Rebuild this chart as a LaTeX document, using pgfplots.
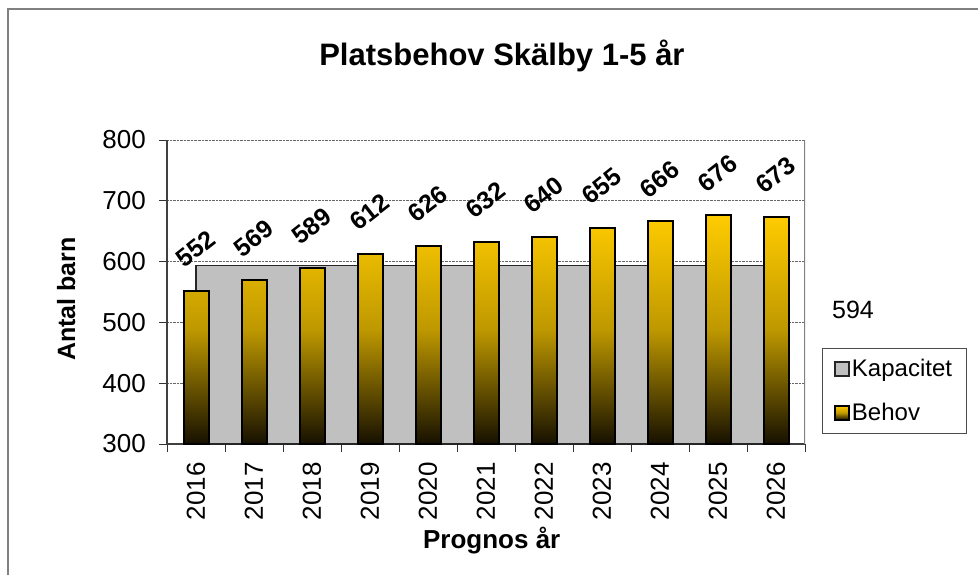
\documentclass[border=0pt]{standalone}
\usepackage{pgfplots}
\pgfplotsset{compat=1.18}
\usepackage{fontspec}
\setmainfont{Liberation Sans}
\definecolor{barTop}{HTML}{FFCC00}
\definecolor{barMid}{HTML}{BE9800}
\definecolor{barBot}{HTML}{161000}
\definecolor{kapFill}{HTML}{C0C0C0}
\definecolor{frameGray}{HTML}{808080}
\begin{document}
\begin{tikzpicture}
\useasboundingbox (0,0) rectangle (978bp,-575bp);
\draw[frameGray, line width=2bp] (8bp,-1000bp) -- (8bp,-9bp) -- (1000bp,-9bp);
\begin{axis}[
  at={(167bp,-444bp)}, anchor=south west,
  scale only axis, width=638bp, height=304bp,
  xmin=-0.5, xmax=10.5, ymin=300, ymax=800,
  ytick={300,400,...,800},
  xtick={-0.5,0.5,...,10.5},
  xticklabels={},
  extra x ticks={0,1,...,10},
  extra x tick labels={2016,2017,2018,2019,2020,2021,2022,2023,2024,2025,2026},
  extra x tick style={tick style={draw=none}, grid=none},
  axis x line*=bottom, axis y line*=left,
  xtick pos=bottom, ytick pos=left,
  tick align=outside,
  major tick length=8bp,
  tick style={black!80, line width=1bp},
  ymajorgrids,
  major grid style={densely dotted, black!60, line width=1bp},
  axis line style={black!75, line width=1.5bp, -},
  /pgf/number format/assume math mode=true,
  /pgf/number format/1000 sep={},
  yticklabel style={font=\fontsize{26bp}{26bp}\selectfont, anchor=east, inner sep=0pt, xshift=-13bp},
  xticklabel style={font=\fontsize{26bp}{26bp}\selectfont, yshift=-10bp, rotate=90, anchor=east, inner sep=0pt},
  ylabel={Antal barn},
  ylabel style={font=\bfseries\fontsize{25bp}{25bp}\selectfont, at={(axis description cs:-0.144,0.477)}, anchor=base, rotate=0},
  xlabel={Prognos år},
  xlabel style={font=\bfseries\fontsize{26bp}{26bp}\selectfont, at={(axis description cs:0.509,-0.345)}, anchor=base},
  title={Platsbehov Skälby 1-5 år},
  title style={font=\bfseries\fontsize{31bp}{31bp}\selectfont, at={(axis description cs:0.525,1.227)}, anchor=base},
  legend style={at={(axis description cs:1.0266,0.3158)}, anchor=north west,
    draw=black!70, line width=1bp, font=\fontsize{24bp}{24bp}\selectfont,
    inner xsep=12bp, inner ysep=9bp, row sep=21bp,
    nodes={inner sep=2bp},
    cells={anchor=west}},
  legend cell align=left,
]
\addplot[fill=kapFill, draw=black!85, line width=1.5bp,
  legend image code/.code={\draw[fill=kapFill, draw=black!85, line width=1.5bp] (0bp,-7bp) rectangle (14bp,7bp);}]
  coordinates {(0,300) (0,594) (10,594) (10,300)} -- cycle;
\addlegendentry{Kapacitet}
\addplot[ybar, bar width=25bp, draw=black, line width=2bp,
  top color=barTop, bottom color=barBot, middle color=barMid,
  nodes near coords,
  nodes near coords style={font=\bfseries\fontsize{25bp}{25bp}\selectfont, anchor=center, yshift=42bp, rotate=38, black},
  legend image code/.code={\draw[top color=barTop, bottom color=barBot, middle color=barMid, draw=black, line width=1.5bp] (0bp,-7bp) rectangle (14bp,7bp);}]
  coordinates {(0,552) (1,569) (2,589) (3,612) (4,626) (5,632) (6,640) (7,655) (8,666) (9,676) (10,673)};
\addlegendentry{Behov}
\draw[black!50, line width=1.5bp] (rel axis cs:1,0) -- (rel axis cs:1,1);
\end{axis}
\node[font=\fontsize{25bp}{25bp}\selectfont] at (853bp,-310bp) {594};
\end{tikzpicture}
\end{document}
